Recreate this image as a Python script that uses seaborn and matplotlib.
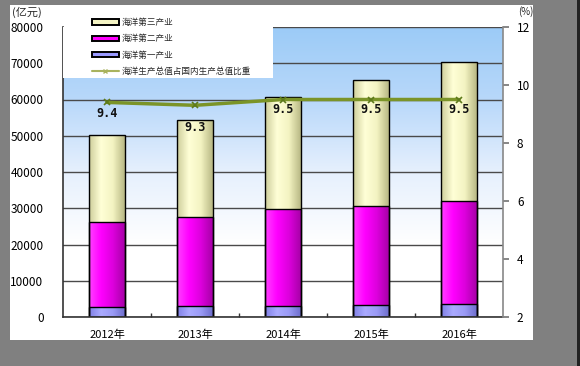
import numpy as np
import pandas as pd
import seaborn as sns
import matplotlib.pyplot as plt
from matplotlib.patches import Patch, Rectangle
from matplotlib.lines import Line2D
from matplotlib.colors import LinearSegmentedColormap

years = ['2012年', '2013年', '2014年', '2015年', '2016年']
primary = [2700, 3000, 3000, 3300, 3500]
secondary = [23400, 24700, 26800, 27400, 28600]
tertiary = [24000, 26600, 30900, 34700, 38300]
ratio = [9.4, 9.3, 9.5, 9.5, 9.5]

names = ['海洋第三产业', '海洋第二产业', '海洋第一产业', '海洋生产总值占国内生产总值比重']

cream = '#F4F4C4'
magenta = '#FF00FF'
lavender = '#9999FF'
olive = '#7B9428'
# vertical offset (points) of the value labels under the line
label_dy = [-8, -16, -7.5, -7.5, -7.5]

sns.set_theme(style='white')
plt.rcParams['font.family'] = ['Noto Sans CJK SC', 'DejaVu Sans']

W, H = 580, 366
fig = plt.figure(figsize=(W / 100, H / 100), dpi=100, facecolor='#808080')
fig.patches.append(Rectangle((10 / W, 1 - 340 / H), 523 / W, 335 / H, transform=fig.transFigure,
                             facecolor='white', edgecolor='none', zorder=-5))
fig.patches.append(Rectangle((577 / W, 0), 3 / W, 1, transform=fig.transFigure,
                             facecolor='#222222', edgecolor='none', zorder=-5))

ax = fig.add_axes([63 / W, 1 - 317 / H, 440 / W, 290 / H])

df = pd.DataFrame({'year': years, 'p': primary, 's': secondary, 't': tertiary})
df['c2'] = df['p'] + df['s']
df['c3'] = df['c2'] + df['t']

# stacked bars drawn as cumulative layers
for col, c in [('c3', cream), ('c2', magenta), ('p', lavender)]:
    sns.barplot(data=df, x='year', y=col, color=c, saturation=1, width=0.4,
                edgecolor='black', linewidth=1, errorbar=None, ax=ax)

# cylinder-like shading on bars
shades = [['#CFCF9C', '#FFFFD6', '#F3F3C2', '#B9B985'],
          ['#FF40FF', '#FF00FF', '#DD00DD', '#A800A8'],
          ['#8080E6', '#AAAAFF', '#9A9AF5', '#6E6ECC']]
n = len(years)
for k, p in enumerate(list(ax.patches)):
    layer = k // n
    cmap = LinearSegmentedColormap.from_list('s%d' % layer, shades[layer])
    x0, y0 = p.get_x(), p.get_y()
    w, h = p.get_width(), p.get_height()
    im = ax.imshow(np.linspace(0, 1, 64)[None, :], cmap=cmap, aspect='auto',
                   extent=[x0, x0 + w, y0, y0 + h], zorder=1.1 + 0.1 * layer)
    im.set_clip_path(p)
    p.set_facecolor('none')
    p.set_zorder(2)

# plot area gradient background
grad = np.linspace(0, 1, 256)[:, None]
bg = LinearSegmentedColormap.from_list('bg', ['#FFFFFF', '#FFFFFF', '#E6F0FD', '#B8D8FA', '#9CCBF7'])
ax.imshow(grad, cmap=bg, aspect='auto', extent=[-0.5, n - 0.5, 0, 80000], origin='lower', zorder=0)

ax.set_xlim(-0.5, n - 0.5)
ax.set_ylim(0, 80000)
ax.set_yticks(np.arange(0, 80001, 10000))
ax.set_axisbelow(True)
ax.yaxis.grid(True, color='#4a4a4a', linewidth=1)
ax.set_xlabel('')
ax.set_ylabel('')
ax.tick_params(axis='y', length=0, labelsize=8.5, pad=14, colors='black')
ax.tick_params(axis='x', length=0, labelsize=8, pad=9, colors='black')
ax.set_xticks(np.arange(n - 1) + 0.5, minor=True)
ax.tick_params(axis='x', which='minor', direction='in', length=3, color='#333333', bottom=True)
for s in ['top', 'right']:
    ax.spines[s].set_visible(False)
for s in ['left', 'bottom']:
    ax.spines[s].set_color('#333333')
    ax.spines[s].set_linewidth(1.2)

ax2 = ax.twinx()
sns.lineplot(x=np.arange(n), y=ratio, color=olive, linewidth=2.5, marker='x',
             markersize=5, markeredgecolor='#5d7a1a', markeredgewidth=1.2, ax=ax2)
for i, v in enumerate(ratio):
    ax2.annotate('%.1f' % v, (i, v), xytext=(0, label_dy[i]), textcoords='offset points',
                 ha='center', va='center', fontsize=8.5, fontweight='bold',
                 family='DejaVu Sans Mono', color='#111111', zorder=5)
ax2.set_ylim(2, 12)
ax2.set_yticks(np.arange(2, 13, 2))
ax2.tick_params(axis='y', direction='out', length=4, color='#777777', labelsize=8.5, pad=6, colors='black')
for s in ['top', 'left', 'bottom']:
    ax2.spines[s].set_visible(False)
ax2.spines['right'].set_color('#888888')
ax2.spines['right'].set_linewidth(1.2)

# legend box
ax2.add_patch(Rectangle((0, 1 - 51 / 290), 210 / 440, 51 / 290, transform=ax2.transAxes,
                        facecolor='white', edgecolor='none', zorder=3, clip_on=False))
handles = [Patch(facecolor=cream, edgecolor='black', linewidth=1.4),
           Patch(facecolor=magenta, edgecolor='black', linewidth=1.4),
           Patch(facecolor=lavender, edgecolor='black', linewidth=1.4),
           Line2D([], [], color='#A9B35E', linewidth=1.5, marker='x', markersize=3)]
leg = ax2.legend(handles, names, loc='upper left', bbox_to_anchor=(92 / W, 1 - 18 / H),
                 bbox_transform=fig.transFigure, frameon=False, fontsize=6.2,
                 handlelength=3.1, handleheight=0.6, handletextpad=0.4, labelspacing=0.85,
                 borderpad=0, borderaxespad=0)
leg.set_zorder(6)

fig.text(12 / W, 1 - 12 / H, '(亿元)', fontsize=8, ha='left', va='center')
fig.text(518 / W, 1 - 12 / H, '(%)', fontsize=7, ha='left', va='center')

fig.savefig('out.png', dpi=100, facecolor=fig.get_facecolor())
